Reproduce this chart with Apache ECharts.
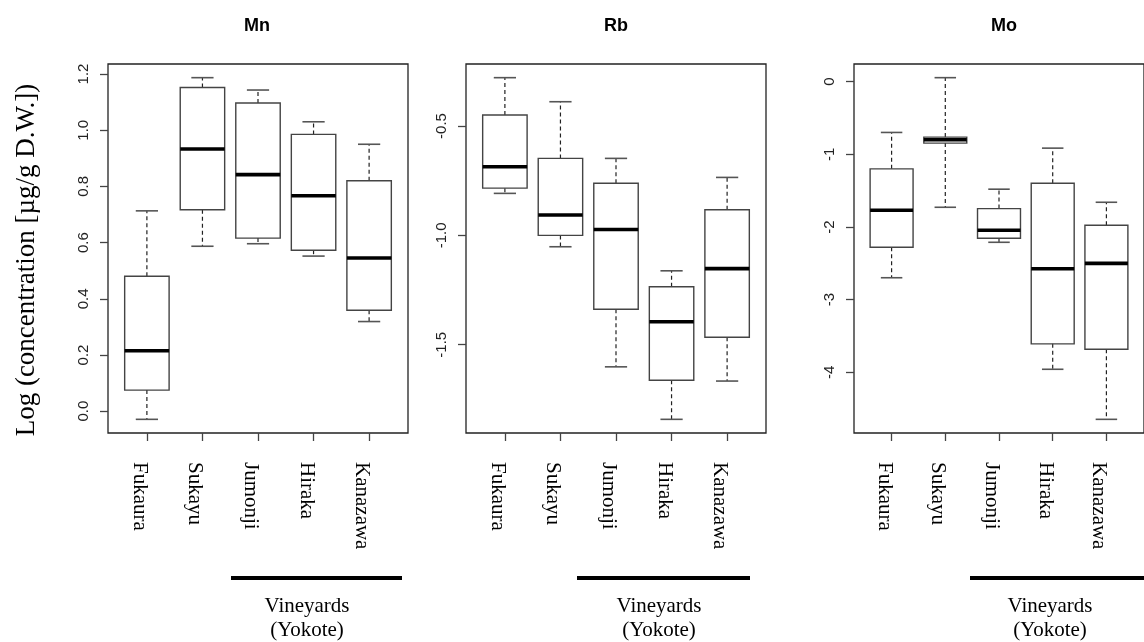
<!DOCTYPE html>
<html>
<head>
<meta charset="utf-8">
<script src="https://cdn.jsdelivr.net/npm/echarts@6/dist/echarts.min.js"></script>
<style>
  html, body { margin: 0; padding: 0; background: #ffffff; }
  #chart { width: 1144px; height: 642px; }
</style>
</head>
<body>
<div id="chart"></div>
<script>
// Sampling sites (x categories)
const sites = ['Fukaura', 'Sukayu', 'Jumonji', 'Hiraka', 'Kanazawa'];

// Five-number summaries per site, log10 concentration:
// [lower whisker, Q1, median, Q3, upper whisker]
const mnStats = [
  [-0.029, 0.075, 0.215, 0.480, 0.713],
  [0.587, 0.717, 0.933, 1.152, 1.187],
  [0.596, 0.616, 0.842, 1.097, 1.143],
  [0.552, 0.573, 0.767, 0.985, 1.030],
  [0.319, 0.359, 0.545, 0.820, 0.950]
];
const rbStats = [
  [-0.808, -0.784, -0.686, -0.450, -0.279],
  [-1.052, -1.000, -0.907, -0.648, -0.389],
  [-1.601, -1.338, -0.973, -0.762, -0.648],
  [-1.841, -1.662, -1.395, -1.235, -1.162],
  [-1.666, -1.466, -1.152, -0.883, -0.735]
];
const moStats = [
  [-2.699, -2.280, -1.770, -1.200, -0.699],
  [-1.729, -0.846, -0.800, -0.763, 0.055],
  [-2.211, -2.156, -2.046, -1.747, -1.480],
  [-3.959, -3.609, -2.575, -1.398, -0.915],
  [-4.648, -3.683, -2.501, -1.977, -1.660]
];

// Y tick positions per panel
const mnTicks = [0, 0.2, 0.4, 0.6, 0.8, 1.0, 1.2];
const rbTicks = [-1.5, -1.0, -0.5];
const moTicks = [-4, -3, -2, -1, 0];

const panelTitles = ['Mn', 'Rb', 'Mo'];
const yTitle = 'Log (concentration [\u00b5g/g D.W.])';
const groupLabel = 'Vineyards\n(Yokote)';

const panels = [
  { stats: mnStats, ticks: mnTicks, digits: 1 },
  { stats: rbStats, ticks: rbTicks, digits: 1 },
  { stats: moStats, ticks: moTicks, digits: 0 }
];

// Panel frames (pixels)
const frameLeft = [108, 466, 854];
const frameWidth = 300;
const frameTop = 64;
const frameHeight = 369;
const titleCenters = [257, 616, 1004];

const siteIdx = sites.map((s, i) => i + 1);
const SERIF = '"Liberation Serif", "Times New Roman", serif';
const SANS = '"Liberation Sans", Arial, sans-serif';

// Value range padded by 4% on each side, as in base R plots
function paddedRange(stats) {
  let lo = Infinity, hi = -Infinity;
  stats.forEach(s => { lo = Math.min(lo, s[0]); hi = Math.max(hi, s[4]); });
  const pad = (hi - lo) * 0.04;
  return [lo - pad, hi + pad];
}

// One box: dashed whiskers, half-width caps, open box, heavy median
function renderBox(params, api) {
  const x = api.value(0);
  const yLo = api.coord([x, api.value(1)])[1];
  const yQ1 = api.coord([x, api.value(2)])[1];
  const yMd = api.coord([x, api.value(3)])[1];
  const yQ3 = api.coord([x, api.value(4)])[1];
  const yHi = api.coord([x, api.value(5)])[1];
  const cx = api.coord([x, api.value(3)])[0];
  const half = api.size([0.4, 0])[0];
  const cap = half / 2;
  const whisker = { stroke: '#222', lineWidth: 1.2, lineDash: [4, 3] };
  const capStyle = { stroke: '#555', lineWidth: 1.6 };
  return {
    type: 'group',
    children: [
      { type: 'line', shape: { x1: cx, y1: yQ3, x2: cx, y2: yHi }, style: whisker },
      { type: 'line', shape: { x1: cx, y1: yQ1, x2: cx, y2: yLo }, style: whisker },
      { type: 'line', shape: { x1: cx - cap, y1: yHi, x2: cx + cap, y2: yHi }, style: capStyle },
      { type: 'line', shape: { x1: cx - cap, y1: yLo, x2: cx + cap, y2: yLo }, style: capStyle },
      { type: 'rect', shape: { x: cx - half, y: yQ3, width: 2 * half, height: yQ1 - yQ3 },
        style: { fill: 'rgba(0,0,0,0)', stroke: '#444', lineWidth: 1.4 } },
      { type: 'line', shape: { x1: cx - half, y1: yMd, x2: cx + half, y2: yMd },
        style: { stroke: '#000', lineWidth: 3.6 } }
    ]
  };
}

const grid = [], xAxis = [], yAxis = [], series = [];

panels.forEach((p, k) => {
  const range = paddedRange(p.stats);
  grid.push({
    left: frameLeft[k], top: frameTop, width: frameWidth, height: frameHeight,
    show: true, borderColor: '#222', borderWidth: 1.3, backgroundColor: 'transparent'
  });
  xAxis.push({
    type: 'value', gridIndex: k, min: 0.3, max: 5.7, position: 'bottom',
    axisLine: { show: false, onZero: false },
    splitLine: { show: false },
    axisTick: { show: true, customValues: siteIdx, length: 8, lineStyle: { color: '#444', width: 1.3 } },
    axisLabel: {
      customValues: siteIdx,
      formatter: v => sites[Math.round(v) - 1],
      rotate: -90, margin: 29,
      verticalAlign: 'top', lineHeight: 15,
      fontFamily: SERIF, fontSize: 21, color: '#000'
    }
  });
  yAxis.push({
    type: 'value', gridIndex: k, min: range[0], max: range[1], position: 'left',
    axisLine: { show: false, onZero: false },
    splitLine: { show: false },
    axisTick: { show: true, customValues: p.ticks, length: 8, lineStyle: { color: '#444', width: 1.3 } },
    axisLabel: {
      customValues: p.ticks,
      formatter: v => v.toFixed(p.digits),
      rotate: 90, margin: 17,
      fontFamily: SANS, fontSize: 15, color: '#222'
    }
  });
  series.push({
    type: 'custom', xAxisIndex: k, yAxisIndex: k,
    renderItem: renderBox,
    encode: { x: 0, y: [1, 2, 3, 4, 5] },
    data: p.stats.map((s, i) => [i + 1].concat(s)),
    silent: true, clip: false
  });
});

// Bars spanning the vineyard sites and their caption
const groupBars = [[231, 402], [577, 750], [970, 1150]];
const groupCenters = [307, 659, 1050];
const graphic = [
  {
    type: 'text', x: 27, y: 260, rotation: Math.PI / 2,
    style: {
      text: yTitle, fontFamily: SERIF, fontSize: 27, fill: '#000',
      align: 'center', verticalAlign: 'middle'
    }
  }
];
panelTitles.forEach((t, k) => {
  graphic.push({
    type: 'text', x: titleCenters[k], y: 26,
    style: {
      text: t, fontFamily: SANS, fontWeight: 'bold', fontSize: 18, fill: '#000',
      align: 'center', verticalAlign: 'middle'
    }
  });
});
groupBars.forEach((b, k) => {
  graphic.push({
    type: 'rect', shape: { x: b[0], y: 576, width: b[1] - b[0], height: 4 },
    style: { fill: '#000' }
  });
  graphic.push({
    type: 'text', x: groupCenters[k], y: 594,
    style: {
      text: groupLabel, fontFamily: SERIF, fontSize: 21, lineHeight: 24,
      fill: '#000', align: 'center', verticalAlign: 'top'
    }
  });
});

const chart = echarts.init(document.getElementById('chart'), null, { renderer: 'canvas' });
chart.setOption({
  backgroundColor: '#ffffff',
  animation: false,
  grid, xAxis, yAxis, series, graphic
});
</script>
</body>
</html>
